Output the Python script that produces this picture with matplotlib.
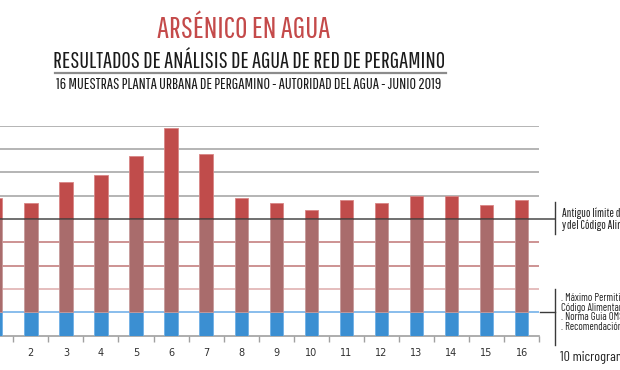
import matplotlib
matplotlib.use('Agg')
import matplotlib.pyplot as plt
from matplotlib.lines import Line2D

# Datos: arsenico (microgramos por litro) en las 16 muestras
muestras = list(range(1, 17))
arsenico = [59, 57, 66, 69, 77, 89, 78, 59, 57, 54, 58, 57, 60, 60, 56, 58]
limite_actual = 10
limite_antiguo = 50
grilla_roja = [20, 30, 40]
grilla_gris = [60, 70, 80, 90]

titulo = "ARSÉNICO EN AGUA"
subtitulo = "RESULTADOS DE ANÁLISIS DE AGUA DE RED DE PERGAMINO"
detalle = "16 MUESTRAS PLANTA URBANA DE PERGAMINO - AUTORIDAD DEL AGUA - JUNIO 2019"
nota_antiguo = ["Antiguo límite de la OMS", "y del Código Alimentario Argentino"]
nota_actual = [". Máximo Permitido por el", "Código Alimentario Argentino",
               ". Norma Guia OMS", ". Recomendación de la OMS"]
nota_unidad = "10 microgramos por litro"

FONT = ['Pathway Gothic One', 'DejaVu Sans']
FONT_NOTA = ['Barlow Condensed', 'DejaVu Sans']
W, H = 620, 370

fig = plt.figure(figsize=(6.2, 3.7), dpi=100)
renderer = fig.canvas.get_renderer()


def fx(px):
    return px / W


def fy(py):
    return 1 - py / H


def size_for(texto, ancho_px, familia=FONT):
    # tamaño de letra para que el texto ocupe ancho_px
    t = fig.text(0, 0, texto, family=familia, fontsize=10)
    w = t.get_window_extent(renderer).width
    t.remove()
    return 10 * ancho_px / w


# ejes: el primer bar queda cortado en el borde izquierdo
ax = fig.add_axes([fx(-21.75), fy(335.7), fx(560.95), 210 / H])

# segmentos apilados
azul = [min(v, limite_actual) for v in arsenico]
medio = [min(v, limite_antiguo) - limite_actual for v in arsenico]
rojo = [max(v - limite_antiguo, 0) for v in arsenico]

ancho = 0.38
ax.bar(muestras, azul, ancho, color='#3b8fd2', edgecolor='#6fb0e6', linewidth=0.6, zorder=3)
ax.bar(muestras, medio, ancho, bottom=limite_actual, color='#a96c6c',
       edgecolor='#c79a9a', linewidth=0.6, zorder=3)
ax.bar(muestras, rojo, ancho, bottom=limite_antiguo, color='#c04c4b',
       edgecolor='#d98585', linewidth=0.6, zorder=3)

# lineas de grilla
for y in grilla_gris:
    ax.axhline(y, color='#b4b4b4', lw=1.4, zorder=1)
for y, c in zip(grilla_roja, ['#e3b8b8', '#c98a8a', '#c98a8a']):
    ax.axhline(y, color=c, lw=1.3, zorder=1)
ax.axhline(limite_actual, color='#7fb8ea', lw=1.3, zorder=2)

ax.set_xlim(0.5, 16.5)
ax.set_ylim(0, 90)
for s in ['left', 'right', 'top']:
    ax.spines[s].set_visible(False)
ax.spines['bottom'].set_color('#a0a0a0')
ax.spines['bottom'].set_linewidth(1.2)
ax.set_yticks([])
ax.set_xticks([i + 0.5 for i in range(0, 17)])
ax.set_xticklabels([])
ax.tick_params(axis='x', which='major', length=4, color='#a0a0a0', width=1)
ax.set_xticks(muestras, minor=True)
ax.set_xticklabels([str(m) for m in muestras], minor=True, fontsize=7, color='#303030')
ax.tick_params(axis='x', which='minor', length=0, pad=9)

# linea del limite antiguo (sobre las barras, sale del grafico)
y50 = 335.7 - limite_antiguo * 210 / 90
y10 = 335.7 - limite_actual * 210 / 90
fig.add_artist(Line2D([fx(-5), fx(555)], [fy(y50), fy(y50)], color='#3a3a3a', lw=1.2, alpha=0.85, zorder=5))
fig.add_artist(Line2D([fx(540), fx(555)], [fy(y10), fy(y10)], color='#3a3a3a', lw=1.0))

# corchetes y notas
fig.add_artist(Line2D([fx(554.5), fx(554.5)], [fy(202), fy(234)], color='#3a3a3a', lw=1.0))
fig.add_artist(Line2D([fx(555), fx(555)], [fy(289), fy(345)], color='#3a3a3a', lw=1.0))
fs_sup = size_for("Antiguo límite d", 58)
for i, t in enumerate(nota_antiguo):
    fig.text(fx(561.5), fy(212.7 + i * 12.5), t, family=FONT, fontsize=fs_sup,
             color='#222222', va='center')
fs_inf = size_for(". Norma Guia OM", 58, FONT_NOTA)
for i, t in enumerate(nota_actual):
    fig.text(fx(561), fy(298 + i * 9.6), t, family=FONT_NOTA, fontsize=fs_inf,
             color='#222222', va='center')
fig.text(fx(560), fy(358), nota_unidad, family=FONT_NOTA,
         fontsize=size_for("10 microgra", 56, FONT_NOTA), color='#222222', va='center')

# titulos
fig.text(fx(243.5), fy(29), titulo, family=FONT, fontsize=size_for(titulo, 173),
         color='#c44a4a', ha='center', va='center')
fig.text(fx(249), fy(61.5), subtitulo, family=FONT, fontsize=size_for(subtitulo, 388),
         color='#1a1a1a', ha='center', va='center')
fig.add_artist(Line2D([fx(55), fx(446)], [fy(72.7), fy(72.7)], color='#8c8c8c', lw=1.6))
fig.text(fx(248.5), fy(84.5), detalle, family=FONT, fontsize=size_for(detalle, 387),
         color='#1a1a1a', ha='center', va='center')

fig.savefig('out.png', dpi=100)
